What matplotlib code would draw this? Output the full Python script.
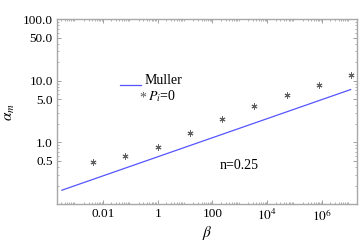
import numpy as np
import matplotlib.pyplot as plt
from matplotlib.ticker import FixedLocator, FixedFormatter, LogLocator, NullFormatter

plt.rcParams['font.family'] = ['Liberation Serif', 'DejaVu Serif']
plt.rcParams['mathtext.fontset'] = 'stix'

# data
beta_pts = [0.0044, 0.067, 1.0, 15, 225, 3400, 5.1e4, 7.6e5, 1.1e7]
alpha_pts = [0.49, 0.60, 0.85, 1.43, 2.4, 3.85, 5.9, 8.6, 12.4]
beta_muller = [3.2e-4, 1.1e7]
alpha_muller = [0.168, 7.2]

xticks = [0.01, 1, 100, 1e4, 1e6]
xticklabels = ['0.01', '1', '100', '$10^4$', '$10^6$']
yticks = [0.5, 1.0, 5.0, 10.0, 50.0, 100.0]
yticklabels = ['0.5', '1.0', '5.0', '10.0', '50.0', '100.0']

fig = plt.figure(figsize=(3.6, 2.45), dpi=100)
ax = fig.add_axes([0.158, 0.167, 0.834, 0.755])

ax.plot(beta_muller, alpha_muller, color='#5555ff', lw=0.9)
ax.plot(beta_pts, alpha_pts, ls='none', marker=(6, 2, 0), ms=4.3, mew=0.7, color='#606060')

ax.set_xscale('log')
ax.set_yscale('log')
ax.set_xlim(2.1e-4, 1.9e7)
ax.set_ylim(0.1, 100)

ax.xaxis.set_major_locator(FixedLocator(xticks))
ax.xaxis.set_major_formatter(FixedFormatter(xticklabels))
ax.xaxis.set_minor_locator(LogLocator(base=10, subs=np.arange(2, 10), numticks=50))
ax.xaxis.set_minor_formatter(NullFormatter())
ax.yaxis.set_major_locator(FixedLocator(yticks))
ax.yaxis.set_major_formatter(FixedFormatter(yticklabels))
ax.yaxis.set_minor_locator(LogLocator(base=10, subs=np.arange(1, 10), numticks=50))
ax.yaxis.set_minor_formatter(NullFormatter())

for s in ax.spines.values():
    s.set_color('#a8a8a8')
    s.set_linewidth(1.0)
ax.tick_params(which='both', direction='in', top=True, right=True, color='#909090', labelsize=9.5, pad=3)
ax.tick_params(which='major', length=3, width=0.6)
ax.tick_params(which='minor', length=1.5, width=0.5)

ax.set_xlabel(r'$\beta$', fontsize=11, labelpad=0)
ax.set_ylabel(r'$\alpha_m$', fontsize=11, labelpad=4)

# legend drawn by hand like the original
ax.plot([0.21, 0.28], [0.643, 0.643], transform=ax.transAxes, color='#5555ff', lw=0.9)
ax.text(0.293, 0.67, 'Muller', transform=ax.transAxes, fontsize=10, va='center', ha='left')
ax.text(0.285, 0.575, '*', transform=ax.transAxes, fontsize=10, va='center', ha='center', color='#555555')
ax.text(0.303, 0.585, r'$P_i$=0', transform=ax.transAxes, fontsize=10, va='center', ha='left')
ax.text(0.543, 0.21, 'n=0.25', transform=ax.transAxes, fontsize=10, va='center', ha='left')

fig.savefig('out.png', dpi=100)
